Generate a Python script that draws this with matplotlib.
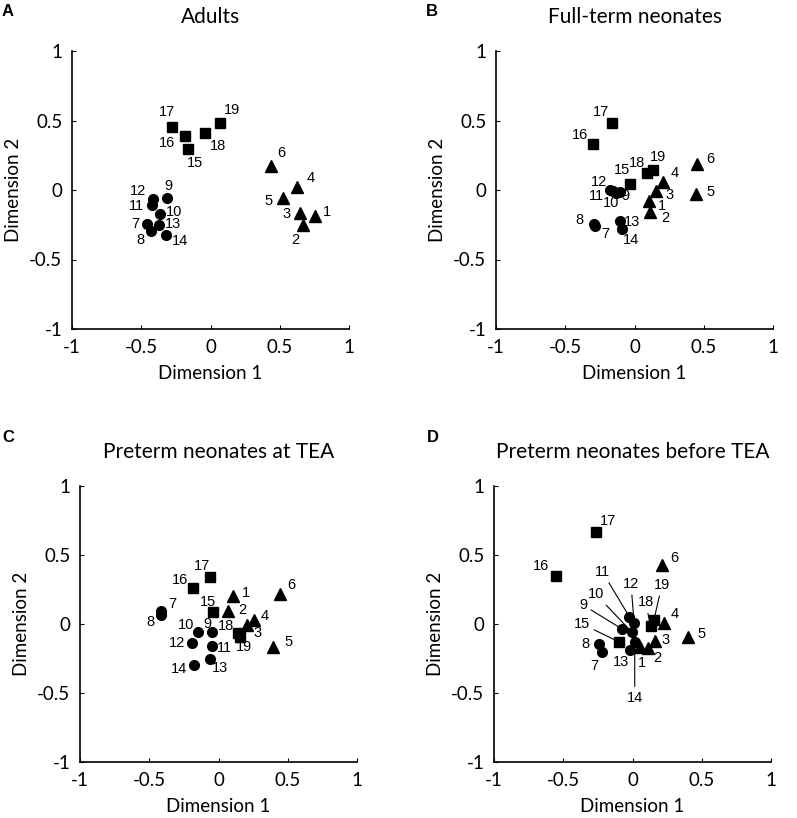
import matplotlib.pyplot as plt
import numpy as np

# stimulus numbers 1..19 : 1-6 triangles, 7-14 circles, 15-19 squares
ids = np.arange(1, 20)

adults_x = [0.755, 0.670, 0.646, 0.625, 0.521, 0.439, -0.461, -0.432, -0.316, -0.362,
            -0.422, -0.413, -0.374, -0.321, -0.162, -0.186, -0.280, -0.042, 0.069]
adults_y = [-0.185, -0.250, -0.168, 0.024, -0.058, 0.173, -0.245, -0.295, -0.058, -0.171,
            -0.110, -0.067, -0.254, -0.322, 0.293, 0.386, 0.451, 0.412, 0.482]

fullterm_x = [0.102, 0.113, 0.155, 0.208, 0.446, 0.451, -0.286, -0.295, -0.108, -0.136,
              -0.156, -0.180, -0.105, -0.093, -0.035, -0.302, -0.162, 0.090, 0.131]
fullterm_y = [-0.079, -0.158, -0.009, 0.055, -0.031, 0.185, -0.261, -0.247, -0.012, -0.020,
              -0.010, 0.000, -0.225, -0.281, 0.045, 0.333, 0.482, 0.124, 0.144]

tea_x = [0.105, 0.071, 0.206, 0.256, 0.396, 0.446, -0.413, -0.413, -0.047, -0.150,
         -0.045, -0.191, -0.064, -0.177, -0.037, -0.186, -0.061, 0.139, 0.155]
tea_y = [0.203, 0.092, -0.009, 0.029, -0.165, 0.220, 0.092, 0.063, -0.058, -0.058,
         -0.159, -0.135, -0.251, -0.299, 0.085, 0.261, 0.343, -0.067, -0.096]

before_x = [0.054, 0.110, 0.165, 0.230, 0.403, 0.215, -0.220, -0.242, -0.076, -0.004,
            -0.023, 0.011, -0.018, 0.016, -0.097, -0.555, -0.266, 0.131, 0.155]
before_y = [-0.167, -0.172, -0.121, 0.007, -0.097, 0.430, -0.201, -0.143, -0.036, -0.060,
            0.053, 0.009, -0.190, -0.128, -0.130, 0.348, 0.667, -0.017, 0.031]

titles = ["Adults", "Full-term neonates", "Preterm neonates at TEA", "Preterm neonates before TEA"]
letters = ["A", "B", "C", "D"]
ticks = [-1, -0.5, 0, 0.5, 1]

# label offsets in pixels (dx right, dy down) for each stimulus
offs_a = {1: (12, -4), 2: (-8, 15), 3: (-13, 1), 4: (14, -9), 5: (-14, 3), 6: (10, -13),
          7: (-11, 0), 8: (-10, 9), 9: (2, -12), 10: (14, -2), 11: (-16, 1), 12: (-15, -8),
          13: (14, -1), 14: (14, 6), 15: (7, 14), 16: (-18, 7), 17: (-5, -15), 18: (13, 13),
          19: (12, -13)}
offs_b = {1: (13, 5), 2: (15, 6), 3: (14, 4), 4: (11, -9), 5: (14, -2), 6: (13, -5),
          7: (10, 8), 8: (-14, -4), 9: (6, 4), 10: (-5, 10), 11: (-16, 5), 12: (-11, -8),
          13: (12, 1), 14: (9, 11), 15: (-8, -14), 16: (-13, -9), 17: (-11, -11), 18: (-10, -10),
          19: (5, -13)}
offs_c = {1: (13, -3), 2: (14, -1), 3: (11, 8), 4: (11, -4), 5: (15, -5), 6: (11, -9),
          7: (11, -7), 8: (-11, 7), 9: (-5, -8), 10: (-12, -7), 11: (12, 2), 12: (-15, 0),
          13: (10, 9), 14: (-15, 4), 15: (-5, -10), 16: (-13, -8), 17: (-8, -11), 18: (-12, -7),
          19: (4, 10)}
offs_d = {1: (2, 16), 2: (10, 10), 3: (10, -1), 4: (10, -9), 5: (13, -3), 6: (12, -7),
          7: (-8, 14), 8: (-14, 0), 9: (-39, -24), 10: (-36, -38), 11: (-27, -45), 12: (-3, -39),
          13: (-9, 12), 14: (0, 56), 15: (-37, -18), 16: (-15, -10), 17: (12, -11), 18: (-5, -24),
          19: (8, -35)}
leaders_d = [9, 10, 11, 12, 14, 15, 18, 19]

plt.rcParams['font.family'] = ['Lato', 'DejaVu Sans']

fig = plt.figure(figsize=(7.97, 8.18), dpi=100)
W, H = 797, 818
# axes boxes in pixels: left, top, right, bottom
boxes = [(72, 51, 349, 329), (496, 51, 773, 329), (80, 486, 357, 762), (494, 486, 771, 762)]
letter_pos = [(2, 12), (426, 12), (2, 437), (427, 437)]

panels = [(adults_x, adults_y, offs_a, []),
          (fullterm_x, fullterm_y, offs_b, []),
          (tea_x, tea_y, offs_c, []),
          (before_x, before_y, offs_d, leaders_d)]

for i, (xs, ys, offs, leaders) in enumerate(panels):
    l, t, r, b = boxes[i]
    ax = fig.add_axes([l / W, 1 - b / H, (r - l) / W, (b - t) / H])
    xs = np.array(xs)
    ys = np.array(ys)
    tri = ids <= 6
    circ = (ids >= 7) & (ids <= 14)
    sq = ids >= 15
    ax.plot(xs[tri], ys[tri], '^', color='black', markersize=8.5, linestyle='none')
    ax.plot(xs[circ], ys[circ], 'o', color='black', markersize=7, linestyle='none')
    ax.plot(xs[sq], ys[sq], 's', color='black', markersize=7.5, linestyle='none')
    for k, n in enumerate(ids):
        dx, dy = offs[n]
        if n in leaders:
            ax.annotate(str(n), (xs[k], ys[k]), xytext=(dx, -dy), textcoords='offset pixels',
                        ha='center', va='center', fontsize=10.5, family='Liberation Sans',
                        arrowprops=dict(arrowstyle='-', lw=0.8, color='black',
                                        shrinkA=1, shrinkB=2))
        else:
            ax.annotate(str(n), (xs[k], ys[k]), xytext=(dx, -dy), textcoords='offset pixels',
                        ha='center', va='center', fontsize=10.5, family='Liberation Sans')
    ax.set_xlim(-1, 1)
    ax.set_ylim(-1, 1)
    ax.set_xticks(ticks)
    ax.set_yticks(ticks)
    ax.set_xticklabels(['-1', '-0.5', '0', '0.5', '1'])
    ax.set_yticklabels(['-1', '-0.5', '0', '0.5', '1'])
    ax.spines['top'].set_visible(False)
    ax.spines['right'].set_visible(False)
    ax.spines['left'].set_linewidth(1.2)
    ax.spines['bottom'].set_linewidth(1.2)
    ax.tick_params(direction='in', length=3, width=0.8, labelsize=13.5, pad=7)
    ax.set_xlabel('Dimension 1', fontsize=13.5, labelpad=7)
    ax.set_ylabel('Dimension 2', fontsize=13.5, labelpad=5)
    ax.set_title(titles[i], fontsize=15, pad=20)
    fig.text(letter_pos[i][0] / W, 1 - letter_pos[i][1] / H, letters[i], fontsize=12,
             fontweight='bold', family='Liberation Sans', ha='left', va='center')

fig.savefig('out.png', dpi=100)
